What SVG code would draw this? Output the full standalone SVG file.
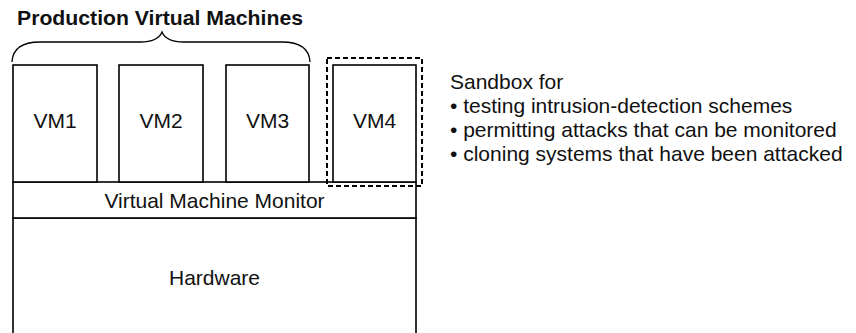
<svg xmlns="http://www.w3.org/2000/svg" width="856" height="333" viewBox="0 0 856 333">
<style>
.box{fill:#fff;stroke:#000;stroke-width:1.6}
.t{font-family:"Liberation Sans",Arial,sans-serif;font-size:21px;fill:#111}
.c{text-anchor:middle}
.title{font-family:"Liberation Sans",Arial,sans-serif;font-size:20.5px;font-weight:bold;fill:#111}
</style>
<rect width="856" height="333" fill="#fff"/>
<text class="title" x="17" y="25" textLength="286" lengthAdjust="spacingAndGlyphs">Production Virtual Machines</text>
<path d="M12,62 Q13,42 40,42 L140,42 Q158,42 162,32 Q166,42 184,42 L282,42 Q309,42 310,62" fill="none" stroke="#000" stroke-width="1.3"/>
<g id="hardware"><rect class="box" x="13" y="218" width="403" height="130"/><text class="t c" x="214.5" y="285">Hardware</text></g>
<g id="vmm"><rect class="box" x="13" y="182" width="403" height="36"/><text class="t c" x="214.5" y="208">Virtual Machine Monitor</text></g>
<g id="vm1"><rect class="box" x="13" y="65" width="84" height="117"/><text class="t c" x="55" y="128">VM1</text></g>
<g id="vm2"><rect class="box" x="119" y="65" width="84" height="117"/><text class="t c" x="161" y="128">VM2</text></g>
<g id="vm3"><rect class="box" x="226" y="65" width="83" height="117"/><text class="t c" x="267.5" y="128">VM3</text></g>
<g id="vm4"><rect class="box" x="333" y="65" width="83" height="117"/><text class="t c" x="374.5" y="128">VM4</text></g>
<g id="sandbox"><rect x="327" y="58" width="95" height="128" fill="none" stroke="#000" stroke-width="2" stroke-dasharray="5,3"/></g>
<g id="notes">
<text class="t" x="450" y="89">Sandbox for</text>
<text class="t" x="450" y="113">• testing intrusion-detection schemes</text>
<text class="t" x="450" y="137">• permitting attacks that can be monitored</text>
<text class="t" x="450" y="161">• cloning systems that have been attacked</text>
</g>
</svg>
